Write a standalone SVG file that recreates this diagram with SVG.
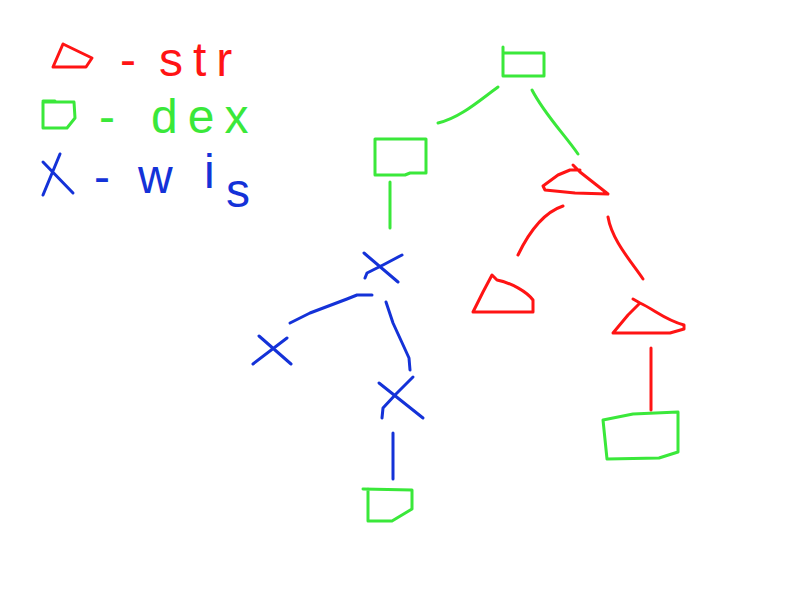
<svg xmlns="http://www.w3.org/2000/svg" width="800" height="600" viewBox="0 0 800 600">
<style>
.s{fill:none;stroke-width:3;stroke-linecap:round;stroke-linejoin:round}
.r{stroke:#ff1414}
.g{stroke:#3ae83a}
.b{stroke:#1432d8}
.t{font-family:"Liberation Sans",Arial,sans-serif;font-size:48px}
.tr{fill:#ff1414}.tg{fill:#3ae83a}.tb{fill:#1432d8}
</style>
<rect width="800" height="600" fill="#ffffff"/>
<g id="legend">
  <g id="legend-str">
    <path class="s r" d="M63,44 L92,58 L86,67 L53,67 Z"/>
    <text class="t tr" y="76"><tspan x="120">-</tspan><tspan x="159" letter-spacing="10">str</tspan></text>
  </g>
  <g id="legend-dex">
    <path class="s g" d="M43,102 L74,102 L75,118 L67,128 L43,128 Z M43,101 L55,101"/>
    <text class="t tg" y="133"><tspan x="99">-</tspan><tspan x="151" letter-spacing="10">dex</tspan></text>
  </g>
  <g id="legend-wis">
    <path class="s b" d="M43,162 L73,193 M60,154 L43,195"/>
    <text class="t tb" y="193"><tspan x="94">-</tspan><tspan x="138">w</tspan><tspan x="204" y="188">i</tspan><tspan x="226" y="207">s</tspan></text>
  </g>
</g>
<g id="connectors">
  <path class="s g" d="M498,87 C480,100 460,118 438,123"/>
  <path class="s g" d="M532,90 C545,115 565,135 578,154"/>
  <path class="s g" d="M390,182 L390,228"/>
  <path class="s r" d="M563,206 C545,212 530,230 518,255"/>
  <path class="s r" d="M608,217 C612,240 630,260 643,279"/>
  <path class="s r" d="M651,348 L651,410"/>
  <path class="s b" d="M372,295 L357,295 L347,299 L310,313 L290,323"/>
  <path class="s b" d="M386,302 L393,323 L404,347 L409,358 L410,370"/>
  <path class="s b" d="M393,433 L393,479"/>
</g>
<g id="root">
  <path class="s g" d="M503,53 L544,53 L544,76 L503,76 Z M503,53 L503,47"/>
</g>
<g id="dex-left">
  <path class="s g" d="M375,139 L426,139 L426,173 L410,173 L405,175 L375,175 Z"/>
</g>
<g id="str-right">
  <path class="s r" d="M573,165 L580,172 L608,194 L575,193 L545,190 L543,186 L558,175 L570,170 L580,170"/>
</g>
<g id="wis-top">
  <path class="s b" d="M364,253 L398,282 M402,255 L383,265 L367,273 L365,278"/>
</g>
<g id="wis-left">
  <path class="s b" d="M259,336 L291,364 M287,338 L253,364"/>
</g>
<g id="wis-right">
  <path class="s b" d="M379,383 L423,418 M413,377 L396,394 L383,408 L382,418"/>
</g>
<g id="dex-bottom">
  <path class="s g" d="M363,489 L412,490 L412,509 L392,521 L368,521 L368,489"/>
</g>
<g id="str-left">
  <path class="s r" d="M492,275 L497,280 C512,283 527,292 533,300 L533,312 L473,312 L483,292 Z"/>
</g>
<g id="str-mid">
  <path class="s r" d="M633,299 L640,303 C655,310 665,320 684,325 L684,329 L670,333 L613,333 L628,315 L640,303"/>
</g>
<g id="dex-right">
  <path class="s g" d="M603,420 L633,414 L678,412 L678,452 L659,458 L607,459 Z"/>
</g>
</svg>
